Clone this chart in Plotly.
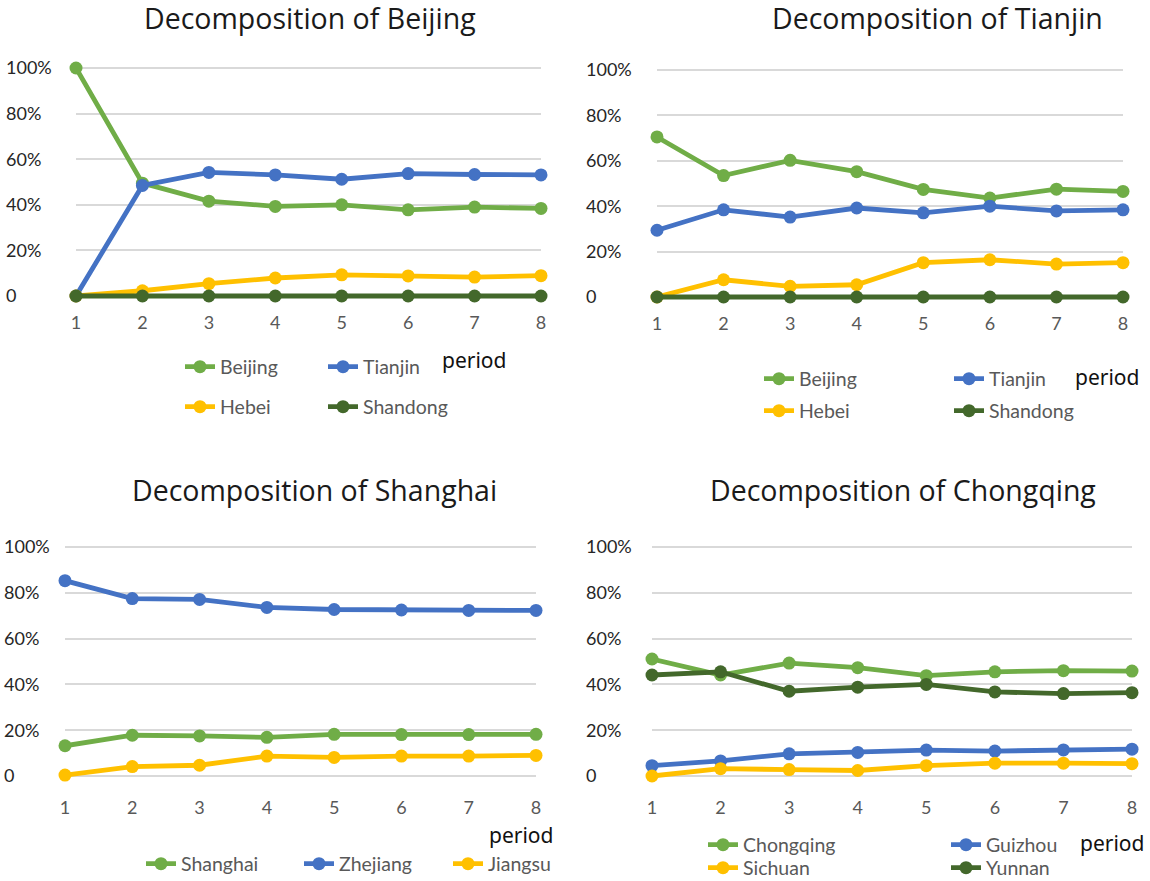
import plotly.graph_objects as go

# ---- data -----------------------------------------------------------------
periods = [1, 2, 3, 4, 5, 6, 7, 8]

y_tickvals = [0, 20, 40, 60, 80, 100]
y_ticktext = ["0", "20%", "40%", "60%", "80%", "100%"]

# Decomposition of Beijing (%)
bj_beijing = [100.0, 49.5, 41.6, 39.3, 40.0, 37.8, 39.0, 38.4]
bj_tianjin = [0.0, 48.5, 54.2, 53.1, 51.2, 53.7, 53.3, 53.1]
bj_hebei = [0.0, 2.3, 5.4, 7.9, 9.3, 8.8, 8.3, 8.9]
bj_shandong = [0.0, 0.0, 0.0, 0.0, 0.0, 0.0, 0.0, 0.0]

# Decomposition of Tianjin (%)
tj_beijing = [70.5, 53.5, 60.2, 55.2, 47.4, 43.6, 47.5, 46.5]
tj_tianjin = [29.4, 38.4, 35.2, 39.2, 37.1, 40.0, 37.9, 38.4]
tj_hebei = [0.0, 7.6, 4.7, 5.4, 15.1, 16.4, 14.5, 15.1]
tj_shandong = [0.0, 0.0, 0.0, 0.0, 0.0, 0.0, 0.0, 0.0]

# Decomposition of Shanghai (%)
sh_shanghai = [13.2, 17.8, 17.5, 16.9, 18.2, 18.1, 18.1, 18.2]
sh_zhejiang = [85.3, 77.5, 77.1, 73.6, 72.7, 72.5, 72.3, 72.3]
sh_jiangsu = [0.4, 4.1, 4.7, 8.7, 8.1, 8.7, 8.7, 9.0]

# Decomposition of Chongqing (%)
cq_chongqing = [51.1, 44.1, 49.3, 47.3, 43.8, 45.5, 46.0, 45.8]
cq_guizhou = [4.5, 6.6, 9.7, 10.3, 11.3, 10.9, 11.4, 11.7]
cq_sichuan = [0.0, 3.2, 2.8, 2.4, 4.5, 5.6, 5.6, 5.4]
cq_yunnan = [44.1, 45.5, 37.0, 38.8, 40.0, 36.7, 36.0, 36.4]

# ---- styling --------------------------------------------------------------
W, H = 1150, 881
GREEN = "#70AD47"
BLUE = "#4472C4"
YELLOW = "#FFC000"
DARK_GREEN = "#43682B"
FONT = "Lato"
TITLE_FONT = "Open Sans"
Y_PAD = 6  # extra value room above 100% and below 0 so end labels stay visible


def px_x(p):
    return p / W


def px_y(p):
    return 1 - p / H


fig = go.Figure()

# every legend entry gets its own small legend box:
# (panel, name, values, colour, text-left px, text-centre-y px)
series = [
    (1, "Beijing", bj_beijing, GREEN, 224, 368),
    (1, "Tianjin", bj_tianjin, BLUE, 367, 368),
    (1, "Hebei", bj_hebei, YELLOW, 224, 408),
    (1, "Shandong", bj_shandong, DARK_GREEN, 367, 408),
    (2, "Beijing", tj_beijing, GREEN, 803, 380),
    (2, "Tianjin", tj_tianjin, BLUE, 993, 380),
    (2, "Hebei", tj_hebei, YELLOW, 803, 412),
    (2, "Shandong", tj_shandong, DARK_GREEN, 993, 412),
    (3, "Shanghai", sh_shanghai, GREEN, 185, 865),
    (3, "Zhejiang", sh_zhejiang, BLUE, 343, 865),
    (3, "Jiangsu", sh_jiangsu, YELLOW, 492, 865),
    (4, "Chongqing", cq_chongqing, GREEN, 747, 846),
    (4, "Guizhou", cq_guizhou, BLUE, 990, 846),
    (4, "Sichuan", cq_sichuan, YELLOW, 747, 869),
    (4, "Yunnan", cq_yunnan, DARK_GREEN, 990, 869),
]

layout = dict(
    width=W, height=H,
    margin=dict(l=0, r=0, t=0, b=0, autoexpand=False),
    paper_bgcolor="white", plot_bgcolor="white",
    font=dict(family=FONT, color="#595959"),
    showlegend=True,
)

legend_style = dict(
    orientation="h", xanchor="left", yanchor="middle",
    bgcolor="rgba(0,0,0,0)", font=dict(family=FONT, size=19.5, color="#595959"),
)

for k, (panel, name, values, color, tx, ty) in enumerate(series, start=1):
    suffix = "" if panel == 1 else str(panel)
    lid = "legend" if k == 1 else "legend" + str(k)
    fig.add_trace(go.Scatter(
        x=periods, y=values, name=name, mode="lines+markers",
        line=dict(color=color, width=4.8),
        marker=dict(color=color, size=13),
        xaxis="x" + suffix, yaxis="y" + suffix,
        legend=lid, cliponaxis=False,
    ))
    layout[lid] = dict(legend_style, x=px_x(tx - 44), y=px_y(ty - 1))

# panel geometry in pixels:
# (x of period 1, x of period 8, y of 100%, y of 0, y-label anchor, x-label standoff)
panels = [
    (76, 541, 68, 296, 2, 0),
    (657, 1123, 70, 297, 582, 0),
    (65, 536, 547, 776, 0, 5),
    (652, 1132, 547, 776, 582, 5),
]

for i, (x1, x8, y100, y0, ylab, xstand) in enumerate(panels, start=1):
    suffix = "" if i == 1 else str(i)
    unit = (y0 - y100) / 100.0
    layout["xaxis" + suffix] = dict(
        domain=[px_x(x1), px_x(x8)], range=[1, 8],
        anchor="y" + suffix,
        tickvals=periods, ticks="", showgrid=False, zeroline=False,
        showline=False, tickfont=dict(family=FONT, size=18, color="#595959"),
        ticklabelstandoff=xstand, fixedrange=True,
    )
    layout["yaxis" + suffix] = dict(
        domain=[px_y(y0 + Y_PAD * unit), px_y(y100 - Y_PAD * unit)],
        range=[-Y_PAD, 100 + Y_PAD],
        anchor="free", position=px_x(ylab), ticklabelposition="inside",
        tickvals=y_tickvals, ticktext=y_ticktext, ticks="",
        showgrid=True, gridcolor="#D9D9D9", gridwidth=1.5,
        zeroline=False, showline=False,
        tickfont=dict(family=FONT, size=18, color="#262626"),
        fixedrange=True,
    )

annotations = []
# panel titles: (text, center x px, center y px)
titles = [
    ("Decomposition of Beijing", 310, 18),
    ("Decomposition of Tianjin", 937, 18),
    ("Decomposition of Shanghai", 315, 490),
    ("Decomposition of Chongqing", 903, 490),
]
for text, cx, cy in titles:
    annotations.append(dict(
        text=text, x=px_x(cx), y=px_y(cy), xref="paper", yref="paper",
        xanchor="center", yanchor="middle", showarrow=False,
        font=dict(family=TITLE_FONT, size=28.5, color="#1A1A1A"),
    ))

# x-axis captions: (left x px, center y px)
period_labels = [(440, 360), (1073, 377), (487, 835), (1078, 843)]
for lx, ly in period_labels:
    annotations.append(dict(
        text="period", x=px_x(lx), y=px_y(ly), xref="paper", yref="paper",
        xanchor="left", yanchor="middle", showarrow=False,
        font=dict(family="Noto Sans", size=21, color="#111111"),
    ))

layout["annotations"] = annotations
fig.update_layout(**layout)

fig.write_html("out.html")
